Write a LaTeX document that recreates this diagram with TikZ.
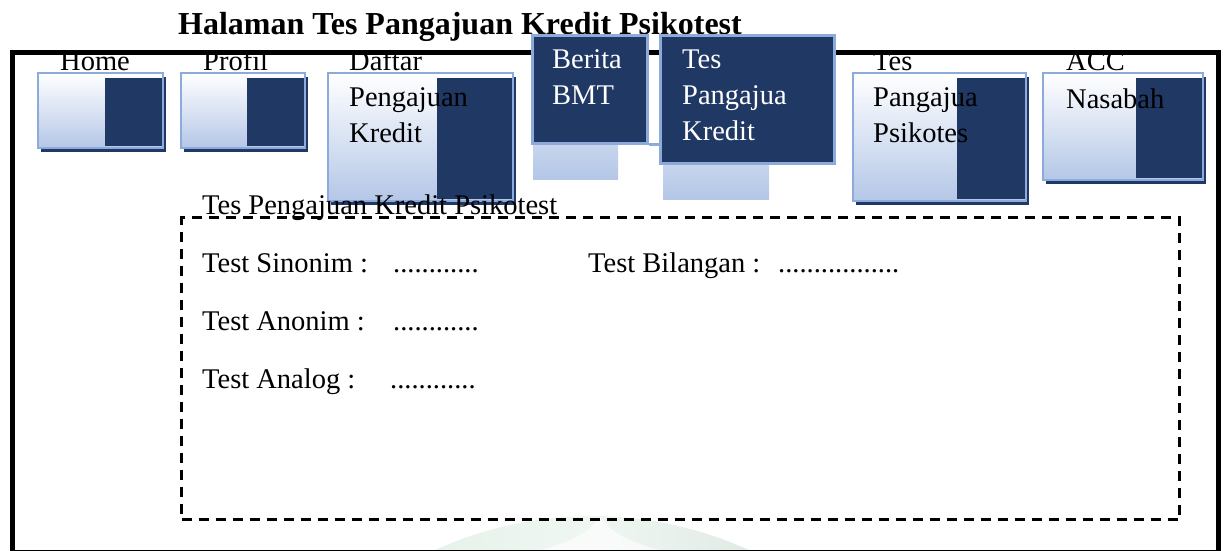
\documentclass[tikz,border=0pt]{standalone}
\usepackage{fontspec}
\setmainfont{Liberation Serif}
\usetikzlibrary{shadows}

\definecolor{navy}{HTML}{203864}
\definecolor{edgeblue}{HTML}{8EAADB}
\definecolor{paleblue}{HTML}{B4C7E7}
\definecolor{paleblue2}{HTML}{C9D6EE}
\definecolor{markgreen}{HTML}{D9EBDF}
\definecolor{markgrey}{HTML}{CBD9D0}

\tikzset{
  % light menu button with a dark right-hand panel and a drop shadow
  menubox/.style={
    rectangle, anchor=north west, inner sep=0pt,
    top color=white, bottom color=paleblue,
    draw=edgeblue, line width=2pt,
    drop shadow={shadow xshift=3pt, shadow yshift=-4pt, fill=navy, opacity=1},
    path picture={\fill[navy] ([xshift=-#1, yshift=-5pt]path picture bounding box.north east)
      rectangle ([yshift=2pt]path picture bounding box.south east);}
  },
  % dark raised tab
  darktab/.style={rectangle, anchor=north west, inner sep=0pt,
    fill=navy, draw=edgeblue, line width=2.5pt},
  % pale block under a raised tab
  tabfoot/.style={rectangle, anchor=north west, inner sep=0pt,
    top color=paleblue2, bottom color=paleblue},
  lbl/.style={anchor=base west, inner sep=0pt, font=\fontsize{28.5}{36}\selectfont},
  whitelbl/.style={lbl, text=white},
  formbox/.style={rectangle, anchor=north west, inner sep=0pt, draw=black,
    line width=3pt, dash pattern=on 10pt off 7pt},
  frameline/.style={draw=black, line width=5pt}
}

\begin{document}
\begin{tikzpicture}[x=1pt, y=-1pt]
\useasboundingbox (0,0) rectangle (1224,550);

% faint seal in the background
\begin{scope}
  \clip (0,0) rectangle (1224,550);
  \shade[left color=markgreen, right color=markgrey, middle color=markgreen!40]
    (592,893) circle (377);
  \fill[white, opacity=0.6] (600,516) .. controls (590,535) and (560,545) .. (540,550)
    -- (660,550) .. controls (640,545) and (610,535) .. (600,516);
\end{scope}

% page title
\node[anchor=base west, inner sep=0pt, font=\fontsize{32}{38}\selectfont\bfseries]
  (title) at (178,34) {Halaman Tes Pangajuan Kredit Psikotest};

% outer page frame
\node[frameline, rectangle, anchor=north west, inner sep=0pt,
  minimum width=1206, minimum height=500] (page) at (10,50) {};

% menu buttons
\node[menubox=58pt, minimum width=125, minimum height=75] (home) at (37,72) {};
\node[menubox=58pt, minimum width=124, minimum height=75] (profil) at (180,72) {};
\node[menubox=76pt, minimum width=185, minimum height=128] (daftar) at (327,72) {};
\node[menubox=69pt, minimum width=173, minimum height=128] (psikotes) at (852,72) {};
\node[menubox=67pt, minimum width=160, minimum height=107] (acc) at (1042,72) {};

% raised tabs
\node[tabfoot, minimum width=85, minimum height=38] (beritafoot) at (533,141) {};
\node[tabfoot, minimum width=106, minimum height=38] (tesfoot) at (663,161) {};
\node[darktab, minimum width=115, minimum height=108] (berita) at (531,34) {};
\node[darktab, minimum width=174, minimum height=128] (tes) at (659,34) {};
\draw[edgeblue, line width=2.5pt] (berita.south east) -- (berita.south east -| tes.west);

% menu labels
\node[lbl] (homelbl) at (60,70) {Home};
\node[lbl] (profillbl) at (203,70) {Profil};
\node[lbl] (daftarlbl1) at (349,70) {Daftar};
\node[lbl] (daftarlbl2) at (349,106) {Pengajuan};
\node[lbl] (daftarlbl3) at (349,142) {Kredit};
\node[whitelbl] (beritalbl1) at (552,68) {Berita};
\node[whitelbl] (beritalbl2) at (552,104) {BMT};
\node[whitelbl] (teslbl1) at (682,68) {Tes};
\node[whitelbl] (teslbl2) at (682,104) {Pangajua};
\node[whitelbl] (teslbl3) at (682,140) {Kredit};
\node[lbl] (psikoteslbl1) at (873,70) {Tes};
\node[lbl] (psikoteslbl2) at (873,106) {Pangajua};
\node[lbl] (psikoteslbl3) at (873,142) {Psikotes};
\node[lbl] (acclbl1) at (1066,70) {ACC};
\node[lbl] (acclbl2) at (1066,108) {Nasabah};

% test form
\node[formbox, minimum width=998, minimum height=302] (form) at (180,216) {};
\node[lbl] (formtitle) at (202,214) {Tes Pengajuan Kredit Psikotest};

\node[lbl] (sinonim) at (202,272) {Test Sinonim :};
\node[lbl] (sinonimval) at (393,272) {............};
\node[lbl] (bilangan) at (588,272) {Test Bilangan :};
\node[lbl] (bilanganval) at (778,272) {.................};
\node[lbl] (anonim) at (202,330) {Test Anonim :};
\node[lbl] (anonimval) at (393,330) {............};
\node[lbl] (analog) at (202,388) {Test Analog :};
\node[lbl] (analogval) at (390,388) {............};
\end{tikzpicture}
\end{document}
